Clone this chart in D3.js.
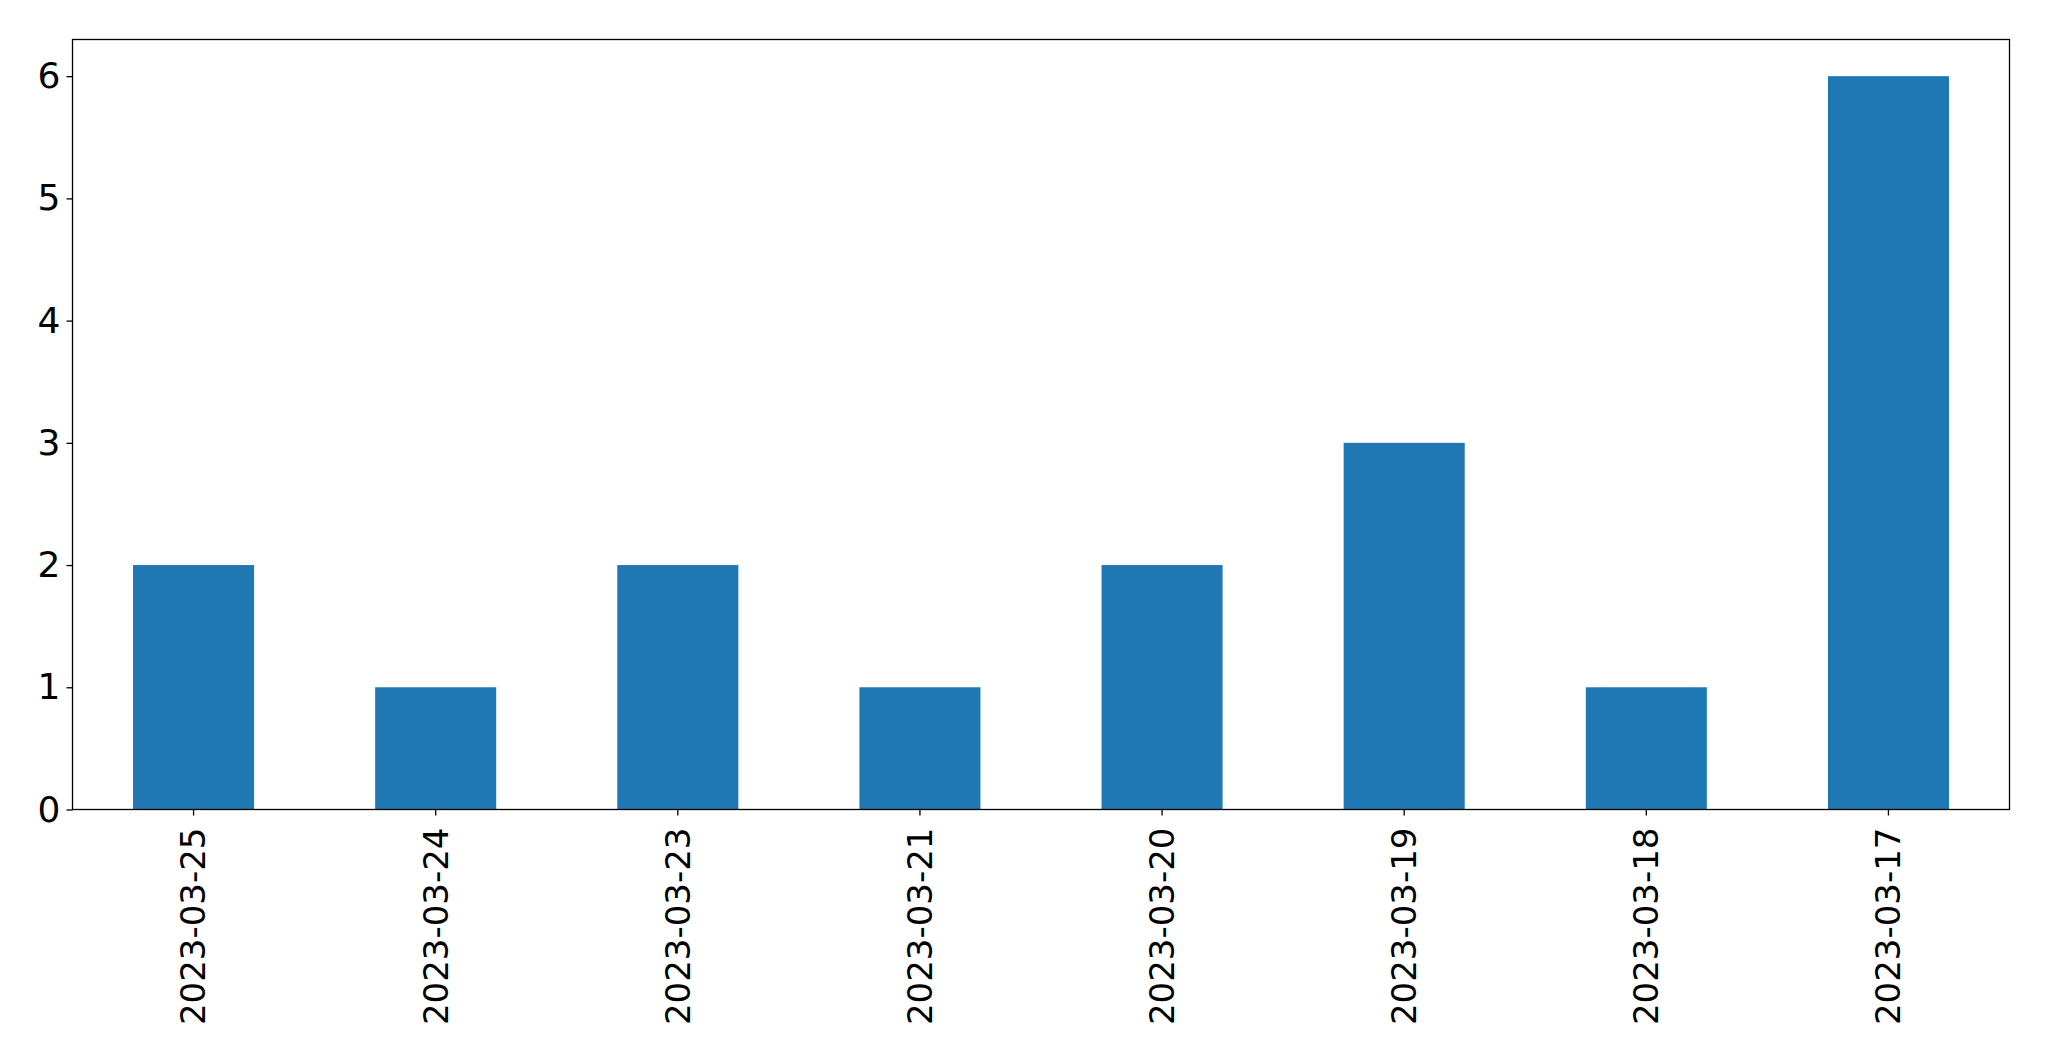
<!DOCTYPE html>
<html>
<head>
<meta charset="utf-8">
<script src="https://cdn.jsdelivr.net/npm/d3@7"></script>
<style>
html,body{margin:0;padding:0;background:#fff;}
svg{display:block;}
</style>
</head>
<body>
<svg id="chart" width="2049" height="1061"></svg>
<script>
const categories = ["2023-03-25","2023-03-24","2023-03-23","2023-03-21","2023-03-20","2023-03-19","2023-03-18","2023-03-17"];
const values = [2,1,2,1,2,3,1,6];
const yTicks = [0,1,2,3,4,5,6];

const W = 2049, H = 1061;
const margin = {left:72.5, right:W-2009.5, top:39.5, bottom:H-809.5};
const svg = d3.select("#chart");
const iw = W - margin.left - margin.right;
const ih = H - margin.top - margin.bottom;

const x = d3.scaleBand().domain(categories).range([0, iw]).paddingInner(0.5).paddingOuter(0.25);
const y = d3.scaleLinear().domain([0, 6.3]).range([ih, 0]);

const g = svg.append("g").attr("transform", `translate(${margin.left},${margin.top})`);

g.selectAll("rect.bar").data(values).join("rect")
  .attr("class","bar")
  .attr("x",(d,i)=>x(categories[i]))
  .attr("width",x.bandwidth())
  .attr("y",d=>y(d))
  .attr("height",d=>y(0)-y(d))
  .attr("fill","#1f77b4");

const font = "DejaVu Sans, sans-serif";

const yAxis = g.append("g").call(d3.axisLeft(y).tickValues(yTicks).tickFormat(d3.format("d")).tickSize(6).tickPadding(6));
yAxis.select(".domain").remove();
yAxis.selectAll("line").attr("stroke","#000").attr("stroke-width",1.3);
yAxis.selectAll("text").attr("font-family",font).attr("font-size",36).attr("fill","#000");

const xAxis = g.append("g").attr("transform",`translate(0,${ih})`).call(d3.axisBottom(x).tickSize(6).tickPadding(0));
xAxis.select(".domain").remove();
xAxis.selectAll("line").attr("stroke","#000").attr("stroke-width",1.3);
xAxis.selectAll("text")
  .attr("font-family",font).attr("font-size",34).attr("fill","#000")
  .attr("transform","translate(0,18) rotate(-90)")
  .attr("text-anchor","end")
  .attr("dy","0.35em").attr("y",0).attr("x",0);

g.append("rect").attr("x",0).attr("y",0).attr("width",iw).attr("height",ih)
  .attr("fill","none").attr("stroke","#000").attr("stroke-width",1.3);
</script>
</body>
</html>
